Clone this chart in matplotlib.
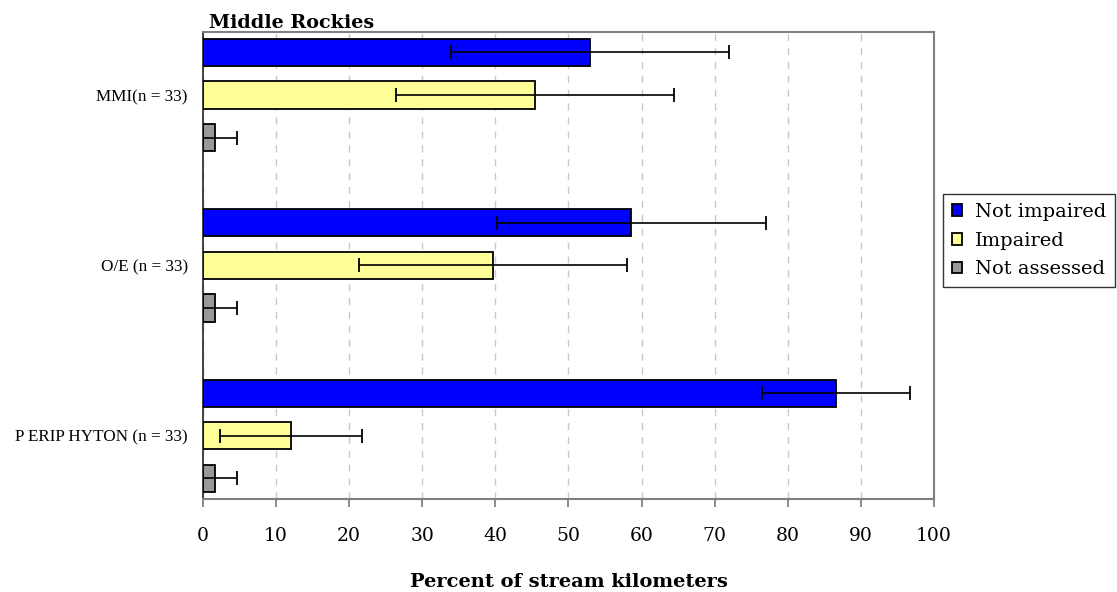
import numpy as np
import matplotlib
matplotlib.use("Agg")
import matplotlib.pyplot as plt

# values
indices = ["MMI(n = 33)", "O/E (n = 33)", "P ERIP HYTON (n = 33)"]
classes = ["Not impaired", "Impaired", "Not assessed"]
not_impaired = [52.9, 58.6, 86.6]
impaired = [45.4, 39.7, 12.0]
not_assessed = [1.6, 1.6, 1.6]
err_not_impaired = [19.0, 18.4, 10.1]
err_impaired = [19.0, 18.3, 9.7]
err_not_assessed = [3.1, 3.1, 3.1]

colors = ["#0000ff", "#ffff99", "#999999"]
serif = ["DejaVu Serif"]
label_font = ["Liberation Serif"]

fig = plt.figure(figsize=(11.17, 5.92), dpi=100)
ax = fig.add_axes([0.1817, 0.1571, 0.8362 - 0.1817, 0.9459 - 0.1571])

groups = np.arange(len(indices))
offsets = [-0.25, 0.0, 0.25]
series = [not_impaired, impaired, not_assessed]
errs = [err_not_impaired, err_impaired, err_not_assessed]

handles = []
for k in range(3):
    vals = np.array(series[k])
    e = np.array(errs[k])
    lower = np.minimum(e, vals)  # clip whisker at zero
    b = ax.barh(groups + offsets[k], vals, height=0.16, color=colors[k],
                edgecolor="black", linewidth=1.3, label=classes[k], zorder=3)
    ax.errorbar(vals, groups + offsets[k], xerr=[lower, e], fmt="none",
                ecolor="black", elinewidth=1.2, capsize=4.7, capthick=1.3,
                zorder=4)
    handles.append(b)

ax.set_xlim(0, 100)
ax.set_ylim(2.371, -0.37)
ax.set_xticks(np.arange(0, 101, 10))
ax.set_yticks(groups)
ax.set_yticklabels(indices, fontsize=12.3, family=label_font)
ax.tick_params(axis="y", length=0, pad=11)
ax.tick_params(axis="x", direction="out", length=6, width=1.2, color="#777777",
               labelsize=13.5, pad=14)
for lab in ax.get_xticklabels():
    lab.set_family(serif)

ax.grid(axis="x", linestyle=(0, (5, 5)), color="#c8c8c8", linewidth=1.0, zorder=0)
ax.set_axisbelow(True)
for side in ["top", "right", "bottom"]:
    ax.spines[side].set_color("#808080")
    ax.spines[side].set_linewidth(1.5)
ax.spines["left"].set_color("#333333")
ax.spines["left"].set_linewidth(1.3)

ax.set_title("Middle Rockies", loc="left", fontsize=13.8, fontweight="bold",
             family=serif, pad=3, x=0.008)
ax.set_xlabel("Percent of stream kilometers", fontsize=14, fontweight="bold",
              family=serif, labelpad=20)

leg = fig.legend(handles=handles, labels=classes, loc="upper left",
                 bbox_to_anchor=(0.8442, 0.672), bbox_transform=fig.transFigure,
                 borderaxespad=0, frameon=True, fancybox=False,
                 prop={"family": serif, "size": 14}, handlelength=0.55,
                 handleheight=0.55, handletextpad=0.65, labelspacing=0.55,
                 borderpad=0.45)
leg.get_frame().set_edgecolor("black")
leg.get_frame().set_linewidth(1.0)

fig.savefig("out.png", dpi=100)
